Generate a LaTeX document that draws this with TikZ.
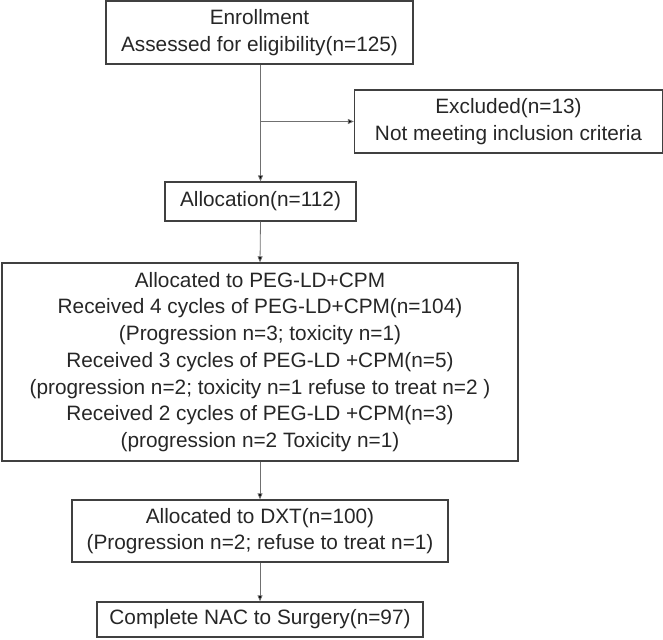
\documentclass[tikz,border=0pt]{standalone}
\usepackage{fontspec}
\setmainfont{Liberation Sans}
\usetikzlibrary{arrows.meta}
\definecolor{boxline}{HTML}{404040}
\definecolor{arrline}{HTML}{707070}
\definecolor{txt}{HTML}{262626}
\begin{document}
\begin{tikzpicture}[x=1pt,y=-1pt,
  box/.style={draw=boxline,line width=1.3pt,inner sep=0pt,align=center,text=txt,
    font=\fontsize{20.8}{26.7}\selectfont},
  arr/.style={draw=arrline,line width=0.8pt,-{Triangle[length=6pt,width=5pt,fill=black]}}]
\useasboundingbox (0,0) rectangle (663,639);
\node[box,minimum width=307pt,minimum height=63pt] (n1) at (259.5,32.5)
  {Enrollment\\Assessed for eligibility(n=125)};
\node[box,minimum width=308pt,minimum height=63pt] (ex) at (508.5,121.5)
  {Excluded(n=13)\\Not meeting inclusion criteria};
\node[box,minimum width=191pt,minimum height=39pt] (al) at (260.5,201.5)
  {Allocation(n=112)};
\node[box,minimum width=516pt,minimum height=198pt] (big) at (260,362)
  {Allocated to PEG-LD+CPM\\
   Received 4 cycles of PEG-LD+CPM(n=104)\\
   (Progression n=3; toxicity n=1)\\
   Received 3 cycles of PEG-LD +CPM(n=5)\\
   (progression n=2; toxicity n=1 refuse to treat n=2 )\\
   Received 2 cycles of PEG-LD +CPM(n=3)\\
   (progression n=2 Toxicity n=1)};
\node[box,minimum width=376pt,minimum height=62pt] (dxt) at (260,531)
  {Allocated to DXT(n=100)\\(Progression n=2; refuse to treat n=1)};
\node[box,minimum width=326pt,minimum height=35pt] (cp) at (260,619.5)
  {Complete NAC to Surgery(n=97)};
\coordinate (br) at (al.north |- ex.west);
\draw[arr] (al.north |- n1.south) -- (al.north);
\draw[arr] (br) -- (ex.west);
\draw[arr] (al.south) -- (big.north);
\draw[arr] (big.south) -- (dxt.north);
\draw[arr] (dxt.south) -- (cp.north);
\end{tikzpicture}
\end{document}
